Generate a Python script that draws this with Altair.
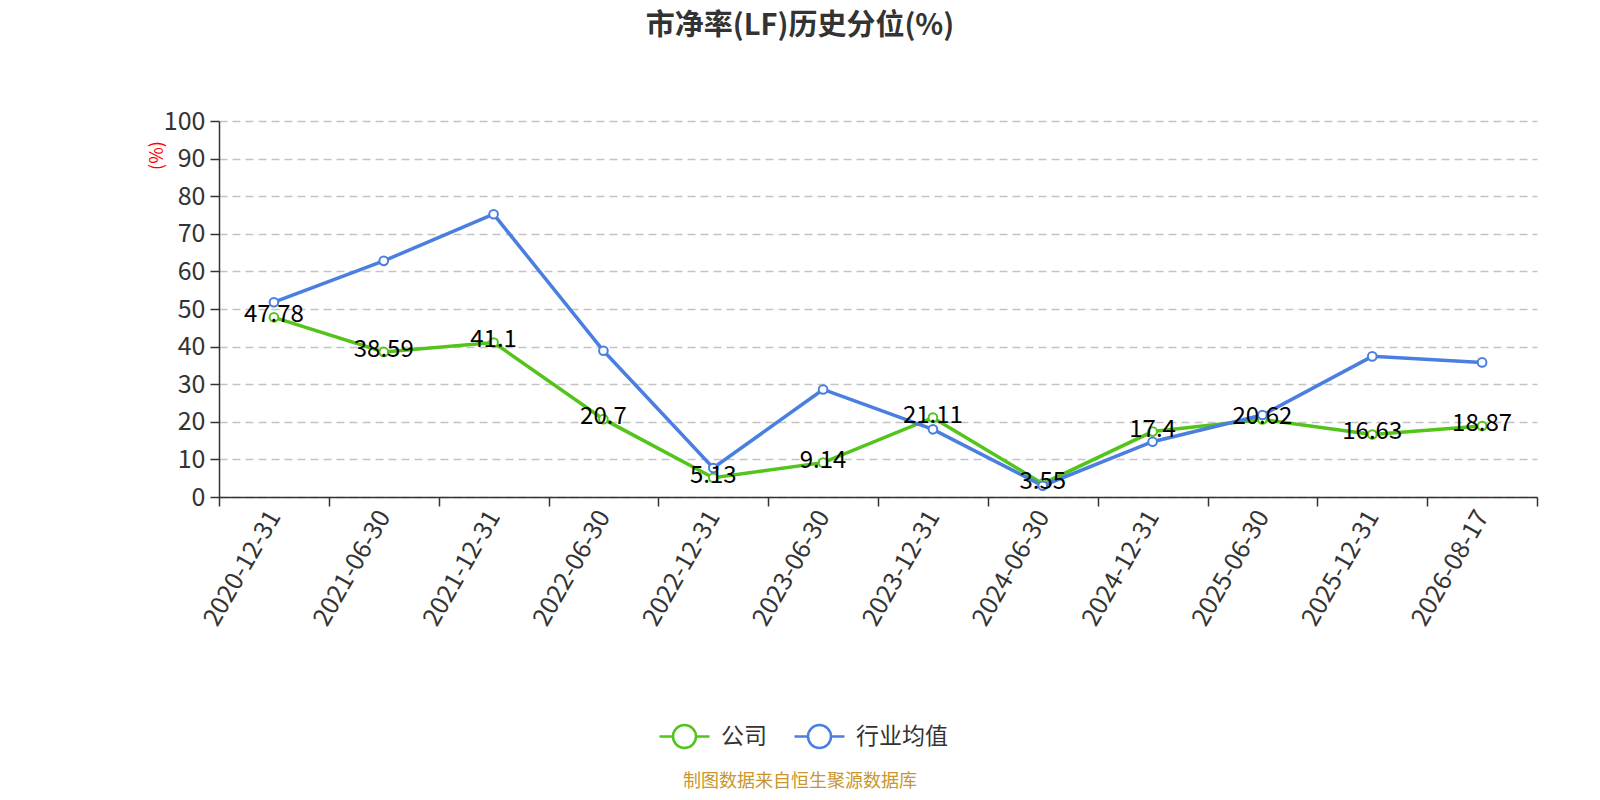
import altair as alt
import pandas as pd

dates = ["2020-12-31", "2021-06-30", "2021-12-31", "2022-06-30", "2022-12-31", "2023-06-30",
         "2023-12-31", "2024-06-30", "2024-12-31", "2025-06-30", "2025-12-31", "2026-08-17"]
company = [47.78, 38.59, 41.1, 20.7, 5.13, 9.14, 21.11, 3.55, 17.4, 20.62, 16.63, 18.87]
industry = [51.8, 62.8, 75.2, 38.9, 7.7, 28.6, 18.0, 3.0, 14.7, 21.8, 37.4, 35.8]
series_names = ["公司", "行业均值"]
series_colors = ["#52c41a", "#4a7fe0"]
title_text = "市净率(LF)历史分位(%)"
footer_text = "制图数据来自恒生聚源数据库"

FONT = "Noto Sans CJK SC"

rows = []
for d, v in zip(dates, company):
    rows.append({"date": d, "series": series_names[0], "value": v})
for d, v in zip(dates, industry):
    rows.append({"date": d, "series": series_names[1], "value": v})
df = pd.DataFrame(rows)
df_company = df[df.series == series_names[0]]

xenc = alt.X("date:N", sort=dates, bandPosition=0.5,
             scale=alt.Scale(type="band", paddingInner=0, paddingOuter=0),
             axis=alt.Axis(title=None, tickBand="extent", labelAngle=300, labelAlign="right",
                           labelBaseline="middle", labelFontSize=25, labelColor="#333",
                           labelFont=FONT, labelPadding=6, tickSize=9,
                           tickColor="#333", domainColor="#333", domainWidth=1.5, tickWidth=1.5,
                           grid=False, labelOverlap=False))
yenc = alt.Y("value:Q",
             scale=alt.Scale(domain=[0, 100], nice=False, zero=True),
             axis=alt.Axis(title="(%)", titleColor="red", titleFontSize=18, titleFont=FONT,
                           titleFontWeight="normal", titleAngle=270, titleX=-62, titleY=34,
                           titleAlign="center", titleBaseline="middle",
                           values=list(range(0, 101, 10)), labelFontSize=25, labelColor="#333",
                           labelFont=FONT, labelPadding=5, tickSize=9, tickColor="#333",
                           tickWidth=1.5, domainColor="#333", domainWidth=1.5,
                           grid=True, gridDash=[8, 5], gridColor="#c4c4c4", gridWidth=1.3))

color_scale = alt.Scale(domain=series_names, range=series_colors)
legend_path = ("M-1,0L-0.46,0M0.46,0L1,0M0.46,0A0.46,0.46,0,1,1,-0.46,0"
               "A0.46,0.46,0,1,1,0.46,0Z")
legend = alt.Legend(title=None, orient="none", direction="horizontal",
                    legendX=439, legendY=589, symbolType=legend_path,
                    symbolSize=2500, symbolStrokeWidth=2.5, symbolFillColor="white",
                    labelFontSize=23, labelColor="#333", labelFont=FONT,
                    labelOffset=10, columnPadding=22)
cenc = alt.Color("series:N", scale=color_scale, legend=legend)

base = alt.Chart(df)

lines = base.mark_line(strokeWidth=3.5).encode(x=xenc, y=yenc, color=cenc)

points = base.mark_point(filled=False, fill="white", fillOpacity=1, size=75,
                         strokeWidth=2, opacity=1).encode(x=xenc, y=yenc, color=cenc)

labels = alt.Chart(df_company).mark_text(fontSize=24, font=FONT, color="black",
                                         baseline="middle", align="center", dy=-2).encode(
    x=xenc, y=yenc, text=alt.Text("value:Q"),
)

footer = alt.Chart(pd.DataFrame({"t": [footer_text]})).mark_text(
    fontSize=18, font=FONT, color="#c8962d", align="center", baseline="middle"
).encode(x=alt.value(581), y=alt.value(661), text="t:N")

chart = alt.layer(lines, points, labels, footer).properties(
    width=1318, height=376,
    autosize=alt.AutoSizeParams(type="none"),
    padding={"left": 211, "top": 113, "right": 50, "bottom": 294},
    title=alt.TitleParams(text=title_text, fontSize=29, font=FONT, fontWeight="bold",
                          color="#333", anchor="middle", dx=-78, offset=68),
).configure(background="white").configure_view(strokeWidth=0)

chart.save("out.html", embed_options={"renderer": "svg", "actions": False})
